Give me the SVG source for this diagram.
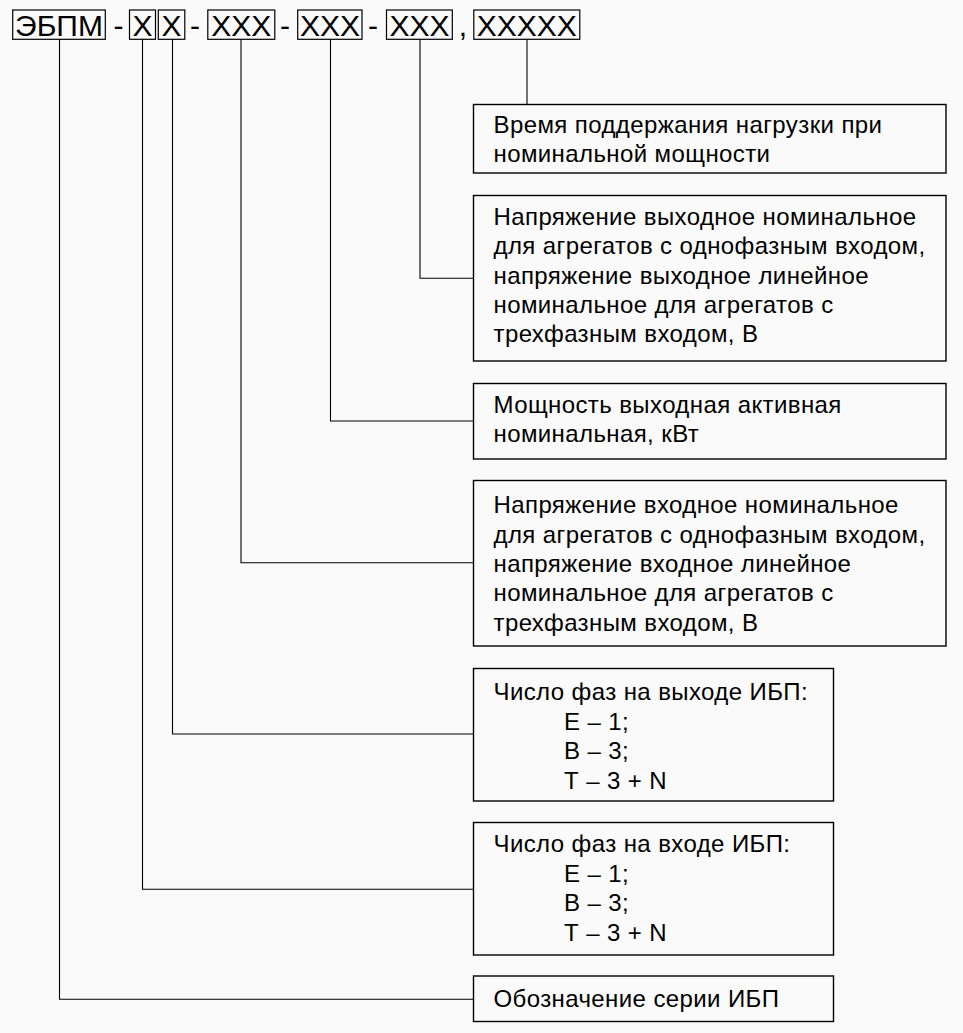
<svg xmlns="http://www.w3.org/2000/svg" width="963" height="1033" viewBox="0 0 963 1033">
<style>
.bg{fill:#fafafa}
.box{fill:none;stroke:#000;stroke-width:1.4}
.hb{fill:none;stroke:#000;stroke-width:1.2}
.conn{fill:none;stroke:#000;stroke-width:1.1}
.h{font-family:"Liberation Sans",Arial,sans-serif;font-size:30px;fill:#000;text-anchor:middle}
.t{font-family:"Liberation Sans",Arial,sans-serif;font-size:24px;letter-spacing:0.4px;fill:#000}
</style>
<rect class="bg" x="0" y="0" width="963" height="1033"/>
<g id="header">
<rect class="hb" x="12.7" y="10" width="92.6" height="29.3"/>
<text class="h" x="59" y="36">ЭБПМ</text>
<text class="h" x="118.6" y="36">-</text>
<rect class="hb" x="129.5" y="10" width="26" height="29.3"/>
<text class="h" x="142.5" y="36">X</text>
<rect class="hb" x="158.3" y="10" width="26.5" height="29.3"/>
<text class="h" x="171.5" y="36">X</text>
<text class="h" x="195" y="36">-</text>
<rect class="hb" x="207.8" y="10" width="67" height="29.3"/>
<text class="h" x="241.3" y="36">XXX</text>
<text class="h" x="285" y="36">-</text>
<rect class="hb" x="297.7" y="10" width="64.3" height="29.3"/>
<text class="h" x="329.9" y="36">XXX</text>
<text class="h" x="373" y="36">-</text>
<rect class="hb" x="386.5" y="10" width="65.8" height="29.3"/>
<text class="h" x="419.4" y="36">XXX</text>
<text class="h" x="463" y="36">,</text>
<rect class="hb" x="473.8" y="10" width="106" height="29.3"/>
<text class="h" x="526.8" y="36">XXXXX</text>
</g>
<g id="connectors">
<polyline class="conn" points="527,39.3 527,104.5"/>
<polyline class="conn" points="420,39.3 420,278.3 473.5,278.3"/>
<polyline class="conn" points="330.5,39.3 330.5,421 473.5,421"/>
<polyline class="conn" points="241,39.3 241,562.7 473.5,562.7"/>
<polyline class="conn" points="172.5,39.3 172.5,734 473.5,734"/>
<polyline class="conn" points="142.5,39.3 142.5,889.3 473.5,889.3"/>
<polyline class="conn" points="59.5,39.3 59.5,999.3 473.5,999.3"/>
</g>
<g id="node-time">
<rect class="box" x="473.5" y="104.5" width="472.5" height="68.5"/>
<text class="t" x="493.5" y="133.3">Время поддержания нагрузки при</text>
<text class="t" x="493.5" y="162.3">номинальной мощности</text>
</g>
<g id="node-uout">
<rect class="box" x="473.5" y="195.5" width="472.5" height="165.5"/>
<text class="t" x="493.5" y="225">Напряжение выходное номинальное</text>
<text class="t" x="493.5" y="254.3">для агрегатов с однофазным входом,</text>
<text class="t" x="493.5" y="283.6">напряжение выходное линейное</text>
<text class="t" x="493.5" y="312.9">номинальное для агрегатов с</text>
<text class="t" x="493.5" y="342.2">трехфазным входом, В</text>
</g>
<g id="node-power">
<rect class="box" x="473.5" y="383.5" width="472.5" height="75.5"/>
<text class="t" x="493.5" y="413.3">Мощность выходная активная</text>
<text class="t" x="493.5" y="442.3">номинальная, кВт</text>
</g>
<g id="node-uin">
<rect class="box" x="473.5" y="480.5" width="472.5" height="165.5"/>
<text class="t" x="493.5" y="513.3">Напряжение входное номинальное</text>
<text class="t" x="493.5" y="542.6">для агрегатов с однофазным входом,</text>
<text class="t" x="493.5" y="571.9">напряжение входное линейное</text>
<text class="t" x="493.5" y="601.2">номинальное для агрегатов с</text>
<text class="t" x="493.5" y="630.5">трехфазным входом, В</text>
</g>
<g id="node-phout">
<rect class="box" x="473.5" y="668.5" width="360" height="132.5"/>
<text class="t" x="493.5" y="700">Число фаз на выходе ИБП:</text>
<text class="t" x="564" y="729.5">Е – 1;</text>
<text class="t" x="564" y="759">В – 3;</text>
<text class="t" x="564" y="788.5">Т – 3 + N</text>
</g>
<g id="node-phin">
<rect class="box" x="473.5" y="822.5" width="360" height="132.5"/>
<text class="t" x="493.5" y="852">Число фаз на входе ИБП:</text>
<text class="t" x="564" y="881.5">Е – 1;</text>
<text class="t" x="564" y="911">В – 3;</text>
<text class="t" x="564" y="940.5">Т – 3 + N</text>
</g>
<g id="node-series">
<rect class="box" x="473.5" y="976" width="360" height="45.5"/>
<text class="t" x="493.5" y="1007">Обозначение серии ИБП</text>
</g>
</svg>
